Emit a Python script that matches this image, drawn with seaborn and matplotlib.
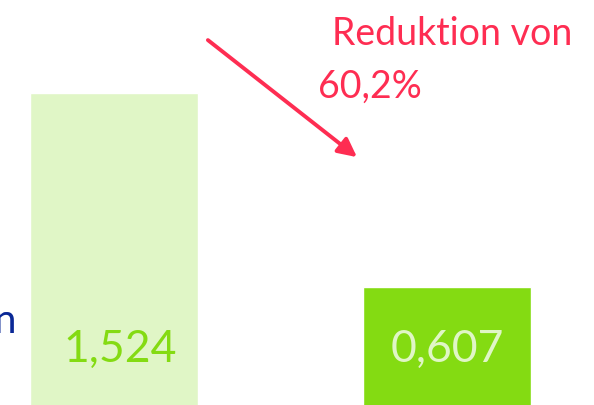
import matplotlib
matplotlib.use("Agg")
import matplotlib.pyplot as plt
import seaborn as sns

categories = ["vorher", "nachher"]
values = [1.524, 0.607]
value_labels = ["1,524", "0,607"]
bar_colors = ["#e0f6c6", "#84db12"]
label_colors = ["#84db12", "#e0f6c6"]
annotation_lines = ["Reduktion von", "60,2%"]
side_text = "n"

sns.set_theme(style="white")
plt.rcParams["font.family"] = ["Lato", "DejaVu Sans"]

fig = plt.figure(figsize=(5.94, 4.05), dpi=100)
ax = fig.add_axes([0, 0, 1, 1])
sns.barplot(x=categories, y=values, hue=categories, palette=bar_colors,
            width=0.505, saturation=1, legend=False, ax=ax)
ax.set_xlim(-0.342, 1.441)
ax.set_ylim(0.047, 1.964)
ax.axis("off")

for i, (lab, col) in enumerate(zip(value_labels, label_colors)):
    ax.text(i + 0.02 * (1 - i), 0.251, lab, ha="center", va="baseline",
            fontsize=32, color=col)

red = "#fe2d52"
ax.text(0.559, 0.889, annotation_lines[0], transform=ax.transAxes,
        ha="left", va="baseline", fontsize=27, color=red)
ax.text(0.535, 0.758, annotation_lines[1], transform=ax.transAxes,
        ha="left", va="baseline", fontsize=27, color=red)
ax.annotate("", xy=(0.601, 0.612), xytext=(0.350, 0.901),
            xycoords="axes fraction", textcoords="axes fraction",
            arrowprops=dict(arrowstyle="-|>", color=red, lw=2.8,
                            mutation_scale=28, shrinkA=0, shrinkB=0))

ax.text(0.027, 1 - 333 / 405, side_text, transform=ax.transAxes,
        ha="right", va="baseline", fontsize=29, color="#0a2896")

fig.savefig("out.png", dpi=100)
